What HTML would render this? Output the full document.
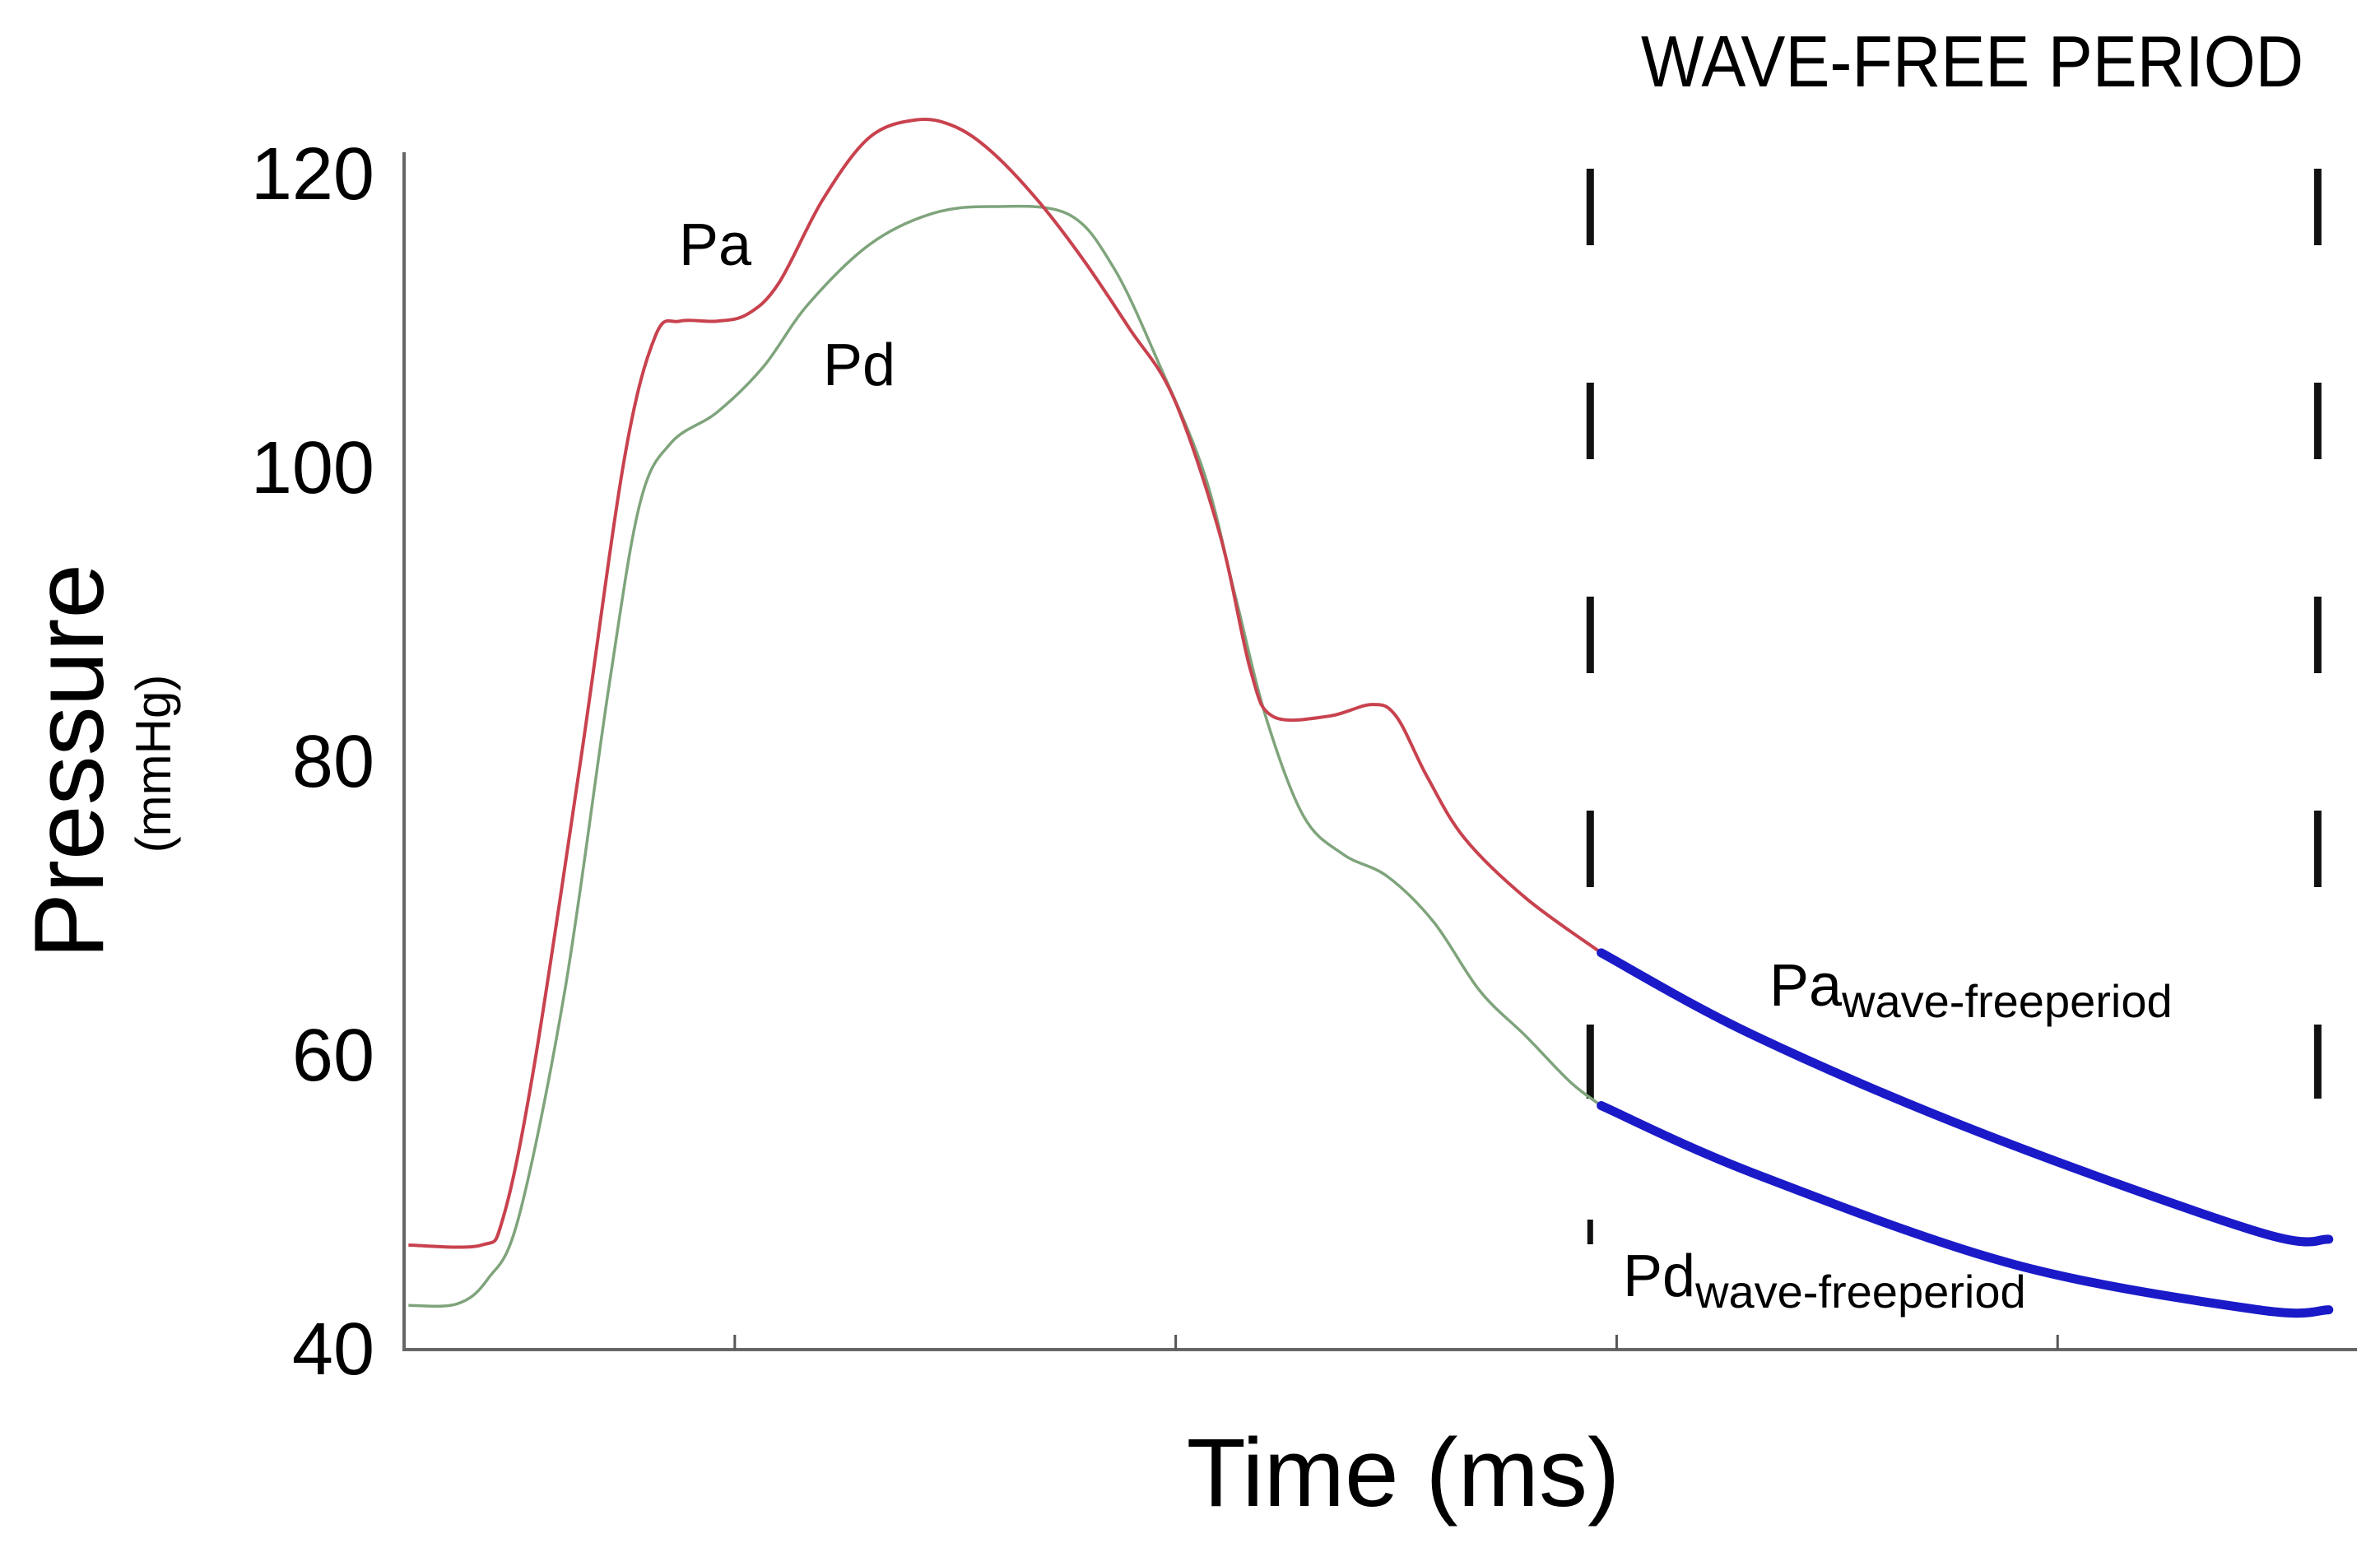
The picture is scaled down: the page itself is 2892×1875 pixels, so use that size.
<!DOCTYPE html>
<html><head><meta charset="utf-8"><style>
html,body{margin:0;padding:0;background:#fff}
svg{display:block}
text{font-family:"Liberation Sans",sans-serif;fill:#000}
</style></head><body>
<svg id="chart" width="2892" height="1875" viewBox="0 0 2892 1875" xmlns="http://www.w3.org/2000/svg">
<text x="2405" y="105" font-size="88" text-anchor="middle" transform="scale(0.92,1) translate(200,0)">WAVE-FREE PERIOD</text>
<g id="axes"></g>
<g id="marks"></g>
<text x="1705" y="1830" font-size="118" text-anchor="middle">Time (ms)</text>
<text transform="translate(125,925) rotate(-90)" font-size="120" text-anchor="middle">Pressure</text>
<text transform="translate(207,928) rotate(-90)" font-size="60" text-anchor="middle">(mmHg)</text>
<text x="825" y="322" font-size="72">Pa</text>
<text x="1000" y="468" font-size="72">Pd</text>
<text x="2150" y="1222" font-size="72">Pa<tspan font-size="56" dy="14">wave-freeperiod</tspan></text>
<text x="1972" y="1575" font-size="72">Pd<tspan font-size="56" dy="14">wave-freeperiod</tspan></text>
</svg>
<script>
const yTicks = [40, 60, 80, 100, 120];
const xTickTimes = [150, 350, 550, 750];
const paTime = [2,35,45,59,80,100,114,125,142,156,170,190,211,232,249,266,287,308,329,349,370,384,394,419,439,450,464,481,509,543];
const paValues = [47,47,48.9,59.2,79.9,100.6,108.9,109.9,109.9,110.4,112.5,118.2,122.4,123.6,123.2,121.5,118.2,114.1,109.4,104.7,95.4,86.1,83,83,83.8,83,78.9,74.7,70.6,66.9];
const pdTime = [2,24,38,52,73,93,107,121,142,163,183,211,239,266,301,322,343,363,377,391,408,426,446,467,488,509,529,543];
const pdValues = [42.9,43,44.7,48.9,64.4,85.1,97.5,101.6,103.7,106.8,111,115.1,117.2,117.7,117.2,113.5,106.8,99.5,91.2,82.9,76.2,73.6,72.1,69,64.3,61.2,58.1,56.5];
const paWfTime = [543,612,716,841,873];
const paWfValues = [66.9,61.3,54.6,47.9,47.4];
const pdWfTime = [543,612,730,841,873];
const pdWfValues = [56.5,51.9,45.7,42.6,42.6];
const wfBounds = [538, 868];

const NS = "http://www.w3.org/2000/svg";
function xs(t){ return 491 + t*2.679; }
function ys(p){ return 1638 - (p-40)*17.85; }
function mk(tag, attrs, parent){ const e=document.createElementNS(NS,tag); for(const k in attrs) e.setAttribute(k,attrs[k]); parent.appendChild(e); return e; }
function smooth(ts, vs){
  const P = ts.map((t,i)=>[xs(t), ys(vs[i])]);
  let d = "M"+P[0][0]+","+P[0][1];
  for(let i=0;i<P.length-1;i++){
    const p0=P[i-1]||P[i], p1=P[i], p2=P[i+1], p3=P[i+2]||P[i+1];
    const c1=[p1[0]+(p2[0]-p0[0])/6, p1[1]+(p2[1]-p0[1])/6];
    const c2=[p2[0]-(p3[0]-p1[0])/6, p2[1]-(p3[1]-p1[1])/6];
    d += " C"+c1[0]+","+c1[1]+" "+c2[0]+","+c2[1]+" "+p2[0]+","+p2[1];
  }
  return d;
}
const axes = document.getElementById('axes');
const marks = document.getElementById('marks');
const ya = mk('line',{x1:491,y1:185,x2:491,y2:1640,stroke:'#666','stroke-width':4},axes);


const xa = mk('line',{x1:489,y1:1640,x2:2864,y2:1640,stroke:'#666','stroke-width':4},axes);


yTicks.forEach(v=>{
  const t = mk('text',{x:455,y:ys(v)+32,'font-size':90,'text-anchor':'end'},axes);
  t.textContent = v;
  
  
});
xTickTimes.forEach(tt=>{
  const l = mk('line',{x1:xs(tt),y1:1622,x2:xs(tt),y2:1640,stroke:'#555','stroke-width':3},axes);
  
  
});
wfBounds.forEach(tt=>{
  const l = mk('line',{x1:xs(tt),y1:205,x2:xs(tt),y2:1335,stroke:'#111','stroke-width':9,'stroke-dasharray':'93 167'},marks);
  
  
});
const sm = mk('line',{x1:xs(wfBounds[0]),y1:1482,x2:xs(wfBounds[0]),y2:1512,stroke:'#111','stroke-width':7},marks);


const pd = mk('path',{d:smooth(pdTime,pdValues),fill:'none',stroke:'#7fa47c','stroke-width':3.5},marks);


const pa = mk('path',{d:smooth(paTime,paValues),fill:'none',stroke:'#c8424e','stroke-width':4},marks);


const paw = mk('path',{d:smooth(paWfTime,paWfValues),fill:'none',stroke:'#1a1ac8','stroke-width':11,'stroke-linecap':'round'},marks);


const pdw = mk('path',{d:smooth(pdWfTime,pdWfValues),fill:'none',stroke:'#1a1ac8','stroke-width':11,'stroke-linecap':'round'},marks);


</script>
</body></html>
